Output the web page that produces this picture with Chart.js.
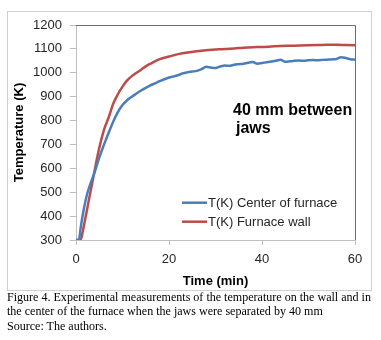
<!DOCTYPE html>
<html><head><meta charset="utf-8">
<script src="https://cdn.jsdelivr.net/npm/chart.js@4/dist/chart.umd.min.js"></script>
<style>
html,body{margin:0;padding:0;background:#fff;width:381px;height:340px;overflow:hidden}
#wrap{position:absolute;left:0;top:0;width:381px;height:300px}
#cap{position:absolute;left:7px;top:290px;font-family:"Liberation Serif","Times New Roman",serif;font-size:12.05px;line-height:14.3px;color:#000;white-space:nowrap}
</style></head>
<body>
<div id="wrap"><canvas id="c" width="381" height="300"></canvas></div>
<div id="cap">Figure 4. Experimental measurements of the temperature on the wall and in<br>the center of the furnace when the jaws were separated by 40 mm<br>Source: The authors.</div>
<script>
// ---- data ----
const timeCenter = [0,0.5,0.7,1,1.5,2,2.5,3,3.5,4,5,6,7,8,9,10,11,12,13,14,15,16,17,18,19,20,21,22,23,24,25,26,27,28,29,30,31,32,33,34,35,36,37,38,39,40,41,42,43,44,45,46,47,48,49,50,51,52,53,54,55,56,57,58,59,60];
const tempCenter = [300,300,305,350,410,460,500,530,557,583,645,698,748,795,835,865,885,900,913,926,937,947,956,965,973,980,985,990,998,1002,1005,1008,1015,1025,1022,1020,1026,1030,1029,1034,1036,1038,1042,1045,1038,1041,1044,1047,1050,1055,1046,1048,1050,1051,1050,1052,1053,1052,1054,1055,1056,1058,1065,1062,1057,1055];
const timeWall = [0,0.5,1,1.5,2,2.5,3,3.5,4,4.5,5,6,7,8,9,10,11,12,13,14,15,16,18,20,22,24,26,28,30,32,34,36,38,40,42,44,46,48,50,52,54,56,58,60];
const tempWall = [300,300,301,340,390,440,490,540,590,640,685,760,812,870,910,942,968,986,1000,1013,1027,1038,1057,1068,1078,1085,1090,1094,1097,1100,1102,1105,1107,1108,1110,1112,1113,1114,1115,1116,1117,1117,1116,1115];
const seriesLabels = ["T(K) Center of furnace","T(K) Furnace wall"];
const xTicks = [0,20,40,60];
const yTicks = [300,400,500,600,700,800,900,1000,1100,1200];
const noteLines = ["40 mm between","jaws"];
const xTitle = "Time (min)";
const yTitle = "Temperature (K)";

const BLUE = "#4a7ebb", RED = "#be4b48";
const FONT = "'Liberation Sans', Arial, sans-serif";

const toXY = (xs, ys) => xs.map((x, i) => ({x, y: ys[i]}));

const decor = {
  id: 'decor',
  beforeDraw(chart) {
    const ctx = chart.ctx;
    ctx.save();
    ctx.fillStyle = '#fff';
    ctx.fillRect(0, 0, chart.width, chart.height);
    ctx.strokeStyle = '#d0d0d0';
    ctx.lineWidth = 1;
    ctx.strokeRect(7.5, 11.5, 364, 279);
    ctx.restore();
  },
  afterDraw(chart) {
    const ctx = chart.ctx, a = chart.chartArea;
    ctx.save();
    ctx.strokeStyle = '#6e6e6e';
    ctx.lineWidth = 1;
    ctx.beginPath();
    ctx.moveTo(a.left, Math.round(a.top) + 0.5);
    ctx.lineTo(Math.round(a.right) + 0.5, Math.round(a.top) + 0.5);
    ctx.lineTo(Math.round(a.right) + 0.5, a.bottom);
    ctx.stroke();
    const rows = [202.7, 221.7];
    ctx.font = "13px " + FONT;
    ctx.textBaseline = 'middle';
    ctx.fillStyle = '#262626';
    chart.data.datasets.forEach((ds, i) => {
      ctx.strokeStyle = ds.borderColor;
      ctx.lineWidth = 2.5;
      ctx.beginPath();
      ctx.moveTo(182, rows[i]);
      ctx.lineTo(207, rows[i]);
      ctx.stroke();
      ctx.fillText(ds.label, 208, rows[i] + 0.5);
    });
    ctx.font = "bold 16px " + FONT;
    ctx.textBaseline = 'alphabetic';
    ctx.fillStyle = '#000';
    ctx.fillText(noteLines[0], 233, 115);
    ctx.fillText(noteLines[1], 236, 133);
    ctx.restore();
  }
};

new Chart(document.getElementById('c'), {
  type: 'line',
  data: {
    datasets: [
      {label: seriesLabels[0], data: toXY(timeCenter, tempCenter), borderColor: BLUE, backgroundColor: BLUE, borderWidth: 2.5, pointRadius: 0, cubicInterpolationMode: 'monotone', fill: false},
      {label: seriesLabels[1], data: toXY(timeWall, tempWall), borderColor: RED, backgroundColor: RED, borderWidth: 2.5, pointRadius: 0, cubicInterpolationMode: 'monotone', fill: false}
    ]
  },
  options: {
    responsive: false,
    animation: false,
    events: [],
    layout: {padding: {left: 0, right: 26, top: 25, bottom: 10}},
    plugins: {legend: {display: false}, tooltip: {enabled: false}},
    scales: {
      x: {
        type: 'linear', min: xTicks[0], max: xTicks[xTicks.length - 1],
        afterFit(s) { s.height = 50; },
        afterBuildTicks(s) { s.ticks = xTicks.map(v => ({value: v})); },
        grid: {drawOnChartArea: false, drawTicks: true, tickLength: 5, color: '#bfbfbf'},
        border: {color: '#bfbfbf', width: 1},
        ticks: {padding: 7, color: '#262626', font: {family: FONT, size: 13}, maxRotation: 0, callback: v => String(v)},
        title: {display: true, text: xTitle, color: '#000', font: {family: FONT, size: 13, weight: 'bold'}, padding: {top: 0, bottom: 1}}
      },
      y: {
        type: 'linear', min: yTicks[0], max: yTicks[yTicks.length - 1],
        afterFit(s) { s.width = 76; },
        afterBuildTicks(s) { s.ticks = yTicks.map(v => ({value: v})); },
        grid: {drawOnChartArea: false, drawTicks: true, tickLength: 6, color: '#bfbfbf'},
        border: {color: '#bfbfbf', width: 1},
        ticks: {padding: 8, color: '#262626', font: {family: FONT, size: 13}, callback: v => String(v)},
        title: {display: true, text: yTitle, color: '#000', font: {family: FONT, size: 13, weight: 'bold'}, padding: {top: 12, bottom: 0}}
      }
    }
  },
  plugins: [decor]
});
</script>
</body></html>
